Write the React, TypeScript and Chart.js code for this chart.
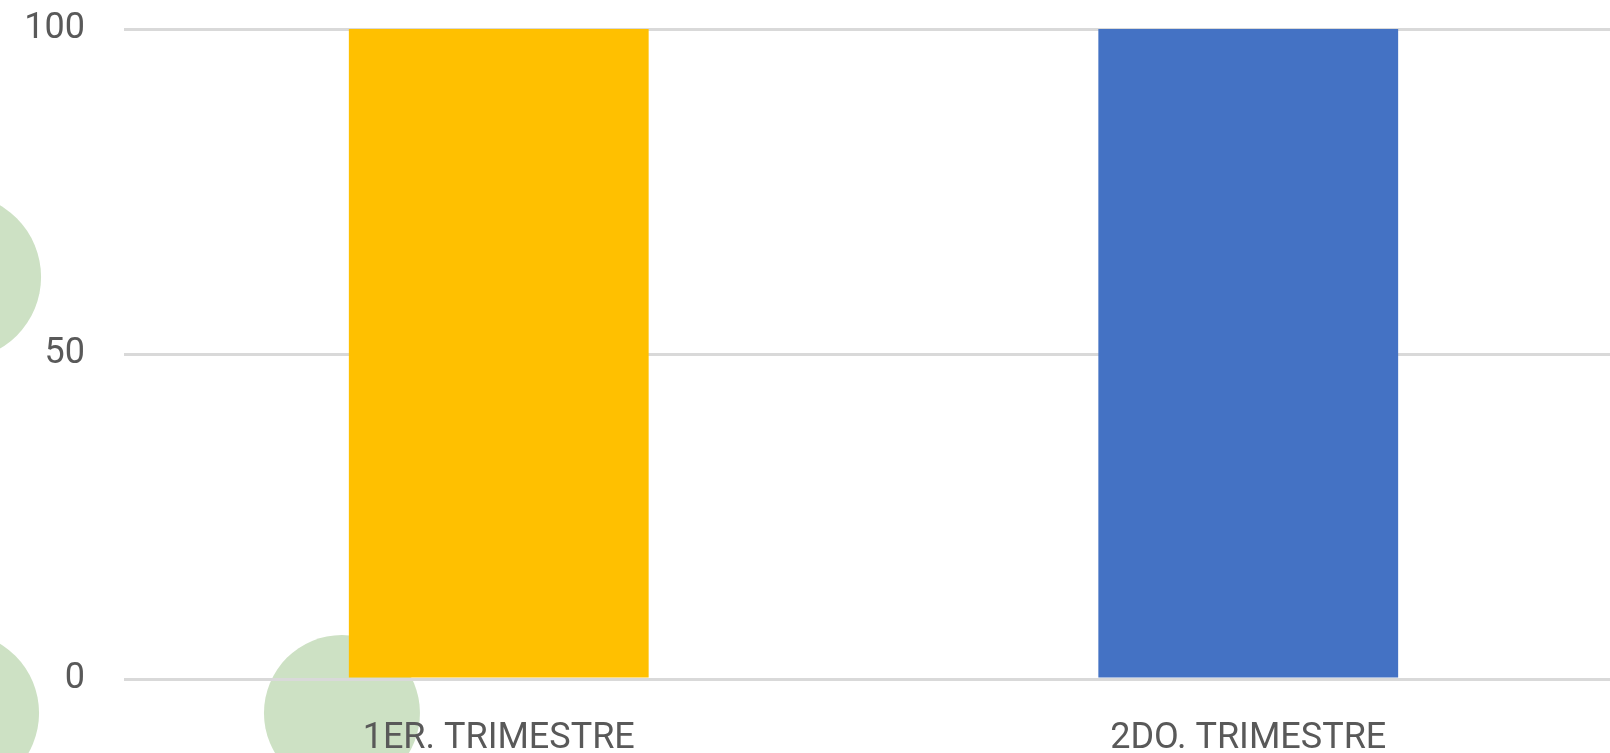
import React, { useEffect, useRef } from "react";
import { Chart, registerables } from "chart.js";

Chart.register(...registerables);

const categories = ["1ER. TRIMESTRE", "2DO. TRIMESTRE"];
const values = [100, 100];
const barColors = ["#FFC000", "#4472C4"];
const yTicks = [0, 50, 100];

// decorative circles (x on a hidden 0-100 axis, y on the value axis, r in px)
const circleX = [-11.07, -11.07, 14.54];
const circleY = [61.85, -5.23, -5.23];
const circleR = [83, 81, 78];

export default function App() {
  const ref = useRef<HTMLCanvasElement | null>(null);

  useEffect(() => {
    document.body.style.margin = "0";
    const canvas = ref.current!;
    const bubbleIndex = 1;
    const behindPlugin = {
      id: "behind",
      beforeDraw(chart: any) {
        const meta = chart.getDatasetMeta(bubbleIndex);
        const ctx = chart.ctx;
        meta.data.forEach((el: any) => el.draw(ctx, undefined));
      },
      beforeDatasetDraw(chart: any, args: any) {
        if (args.index === bubbleIndex) return false;
      },
    };
    const chart = new Chart(canvas, {
      type: "bar",
      data: {
        labels: categories,
        datasets: [
          {
            type: "bar",
            data: values,
            backgroundColor: barColors,
            borderWidth: 0,
            barPercentage: 0.4,
            categoryPercentage: 1,
            grouped: false,
            xAxisID: "x",
            yAxisID: "y",
          },
          {
            type: "bubble",
            data: circleX.map((x, i) => ({ x, y: circleY[i], r: circleR[i] })),
            backgroundColor: "#CDE1C4",
            borderWidth: 0,
            hoverRadius: 0,
            grouped: false,
            xAxisID: "xc",
            yAxisID: "y",
            clip: false,
          },
        ],
      },
      options: {
        responsive: false,
        animation: false,
        events: [],
        layout: { autoPadding: false, padding: { top: 29, left: 0, right: 0, bottom: 0 } },
        plugins: {
          legend: { display: false },
          tooltip: { enabled: false },
        },
        scales: {
          x: {
            type: "category",
            grid: { display: false, drawTicks: false },
            border: { display: false },
            ticks: {
              color: "#595959",
              padding: 42,
              font: { family: "Roboto", size: 36, lineHeight: 1.0 },
              maxRotation: 0,
            },
            afterFit(scale: any) {
              scale.height = 74;
              scale.paddingLeft = 0;
              scale.paddingRight = 0;
            },
          },
          xc: {
            type: "linear",
            display: false,
            offset: false,
            min: 0,
            max: 100,
          },
          y: {
            type: "linear",
            min: 0,
            max: 100,
            afterBuildTicks(scale: any) {
              scale.ticks = yTicks.map((v) => ({ value: v }));
            },
            afterFit(scale: any) {
              scale.width = 124;
              scale.paddingTop = 0;
              scale.paddingBottom = 0;
            },
            grid: { color: "#D9D9D9", lineWidth: 3, drawTicks: false },
            border: { display: false },
            ticks: {
              color: "#595959",
              padding: 39,
              font: { family: "Roboto", size: 36 },
            },
          },
        },
      },
      plugins: [behindPlugin],
    } as any);
    return () => chart.destroy();
  }, []);

  return (
    <div style={{ width: 1610, height: 753, overflow: "hidden", position: "relative" }}>
      <canvas ref={ref} width={1623} height={753} style={{ display: "block" }} />
    </div>
  );
}
